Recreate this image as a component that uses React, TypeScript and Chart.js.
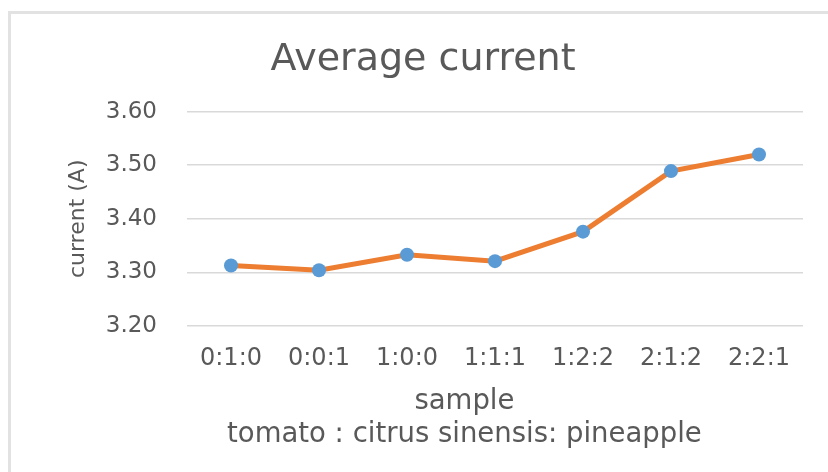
import React, { useEffect, useRef } from "react";
import { Chart, registerables } from "chart.js";

Chart.register(...registerables);

const categories = ["0:1:0", "0:0:1", "1:0:0", "1:1:1", "1:2:2", "2:1:2", "2:2:1"];
const currentValues = [3.313, 3.304, 3.333, 3.321, 3.376, 3.489, 3.52];
const chartTitle = "Average current";
const xTitle = [
  "sample\u00a0\u00a0\u00a0\u00a0\u00a0\u00a0\u00a0",
  "tomato : citrus sinensis: pineapple\u00a0\u00a0\u00a0\u00a0\u00a0\u00a0\u00a0",
];
const yTitle = "current (A)";
const yMin = 3.2;
const yMax = 3.6;
const yStep = 0.1;

const TEXT = "#595959";
const FONT = "'DejaVu Sans', sans-serif";

export default function App() {
  const ref = useRef<HTMLCanvasElement | null>(null);
  useEffect(() => {
    if (!ref.current) return;
    const chart = new Chart(ref.current, {
      type: "line",
      data: {
        labels: categories,
        datasets: [
          {
            data: currentValues,
            borderColor: "#ED7D31",
            borderWidth: 5,
            pointBackgroundColor: "#5B9BD5",
            pointBorderColor: "#5B9BD5",
            pointRadius: 7,
            pointBorderWidth: 0,
            tension: 0,
          },
        ],
      },
      options: {
        animation: false,
        responsive: false,
        layout: { padding: { left: 43, right: 25, top: 0, bottom: 0 } },
        plugins: {
          legend: { display: false },
          tooltip: { enabled: false },
          title: {
            display: true,
            text: chartTitle,
            color: TEXT,
            font: { family: FONT, size: 38, weight: "normal", lineHeight: 1.2 },
            padding: { top: 37, bottom: 29 },
          },
        },
        scales: {
          x: {
            offset: true,
            grid: { display: false, drawTicks: false },
            border: { display: false },
            ticks: {
              color: TEXT,
              font: { family: FONT, size: 24, lineHeight: 1.2 },
              padding: 18,
              maxRotation: 0,
              autoSkip: false,
            },
            title: {
              display: true,
              text: xTitle,
              color: TEXT,
              font: { family: FONT, size: 27.5, lineHeight: 1.2 },
              padding: { top: 0, bottom: 21 },
            },
            afterFit: (scale: any) => {
              scale.height = 146;
            },
          },
          y: {
            min: yMin,
            max: yMax,
            grid: { color: "#d9d9d9", lineWidth: 1.5, drawTicks: false },
            border: { display: false },
            ticks: {
              stepSize: yStep,
              color: TEXT,
              font: { family: FONT, size: 23 },
              padding: 30,
              callback: (v: any) => Number(v).toFixed(2),
            },
            title: {
              display: true,
              text: yTitle,
              color: TEXT,
              font: { family: FONT, size: 22, lineHeight: 1.2 },
              padding: { top: 22, bottom: 0 },
            },
            afterFit: (scale: any) => {
              scale.width = 144;
            },
          },
        },
      },
    });
    return () => chart.destroy();
  }, []);

  return (
    <div style={{ position: "absolute", left: 0, top: 0, width: 828, height: 472, background: "#fff" }}>
      <canvas ref={ref} width={828} height={472} style={{ display: "block" }} />
      <div
        style={{
          position: "absolute",
          left: 8,
          top: 11,
          width: 820,
          height: 461,
          borderTop: "3px solid #e2e2e2",
          borderLeft: "3px solid #e2e2e2",
          boxSizing: "border-box",
          pointerEvents: "none",
        }}
      />
    </div>
  );
}
